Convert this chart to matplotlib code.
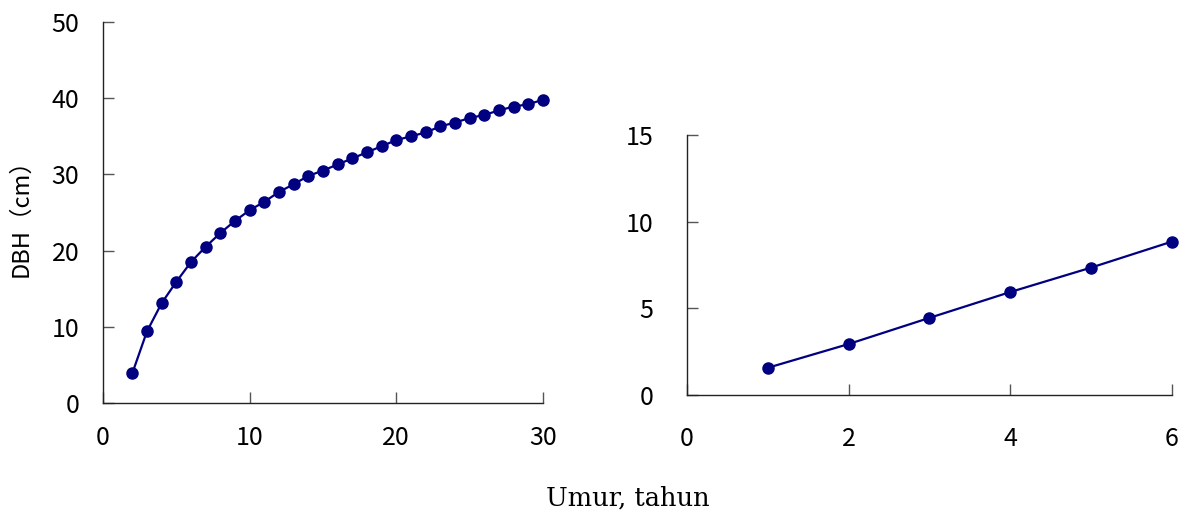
import matplotlib
matplotlib.use("Agg")
import matplotlib.pyplot as plt

plt.rcParams['font.family'] = ['Noto Sans CJK JP', 'DejaVu Sans']

# left panel: DBH by age, long series
umur_a = list(range(2, 31))
dbh_a = [3.9, 9.4, 13.1, 15.9, 18.5, 20.5, 22.3, 23.9, 25.3, 26.4,
         27.7, 28.7, 29.8, 30.5, 31.3, 32.1, 32.9, 33.7, 34.5, 35.0,
         35.5, 36.3, 36.8, 37.4, 37.8, 38.4, 38.9, 39.2, 39.8]

# right panel: first years
umur_b = [1, 2, 3, 4, 5, 6]
dbh_b = [1.57, 2.94, 4.45, 5.94, 7.35, 8.85]

xt_a = [0, 10, 20, 30]
yt_a = [0, 10, 20, 30, 40, 50]
xt_b = [0, 2, 4, 6]
yt_b = [0, 5, 10, 15]

navy = '#000080'

fig = plt.figure(figsize=(11.85, 5.16), dpi=100)
ax1 = fig.add_axes([0.0869, 0.2190, 0.3713, 0.7384])
ax2 = fig.add_axes([0.5797, 0.2345, 0.4093, 0.5039])


def style(ax, xt, yt, xpad, ypad):
    ax.set_xlim(xt[0], xt[-1])
    ax.set_ylim(yt[0], yt[-1])
    ax.set_xticks(xt)
    ax.set_yticks(yt)
    for s in ['top', 'right']:
        ax.spines[s].set_visible(False)
    for s in ['left', 'bottom']:
        ax.spines[s].set_linewidth(1.0)
        ax.spines[s].set_color('#222222')
    ax.tick_params(axis='both', direction='in', length=8, width=1.0,
                   color='#555555', labelsize=18)
    ax.tick_params(axis='x', pad=xpad)
    ax.tick_params(axis='y', pad=ypad)


ax1.plot(umur_a, dbh_a, color=navy, lw=1.6, marker='o', ms=8,
         clip_on=False, zorder=3)
style(ax1, xt_a, yt_a, 16, 17)
ax1.set_ylabel('DBH（cm）', fontsize=17, labelpad=14)

ax2.plot(umur_b, dbh_b, color=navy, lw=1.6, marker='o', ms=8,
         clip_on=False, zorder=3)
style(ax2, xt_b, yt_b, 22, 24)

fig.text(0.53, 0.035, 'Umur, tahun', ha='center', va='center',
         fontsize=18.5, family='DejaVu Serif')

fig.savefig('out.png', dpi=100)
